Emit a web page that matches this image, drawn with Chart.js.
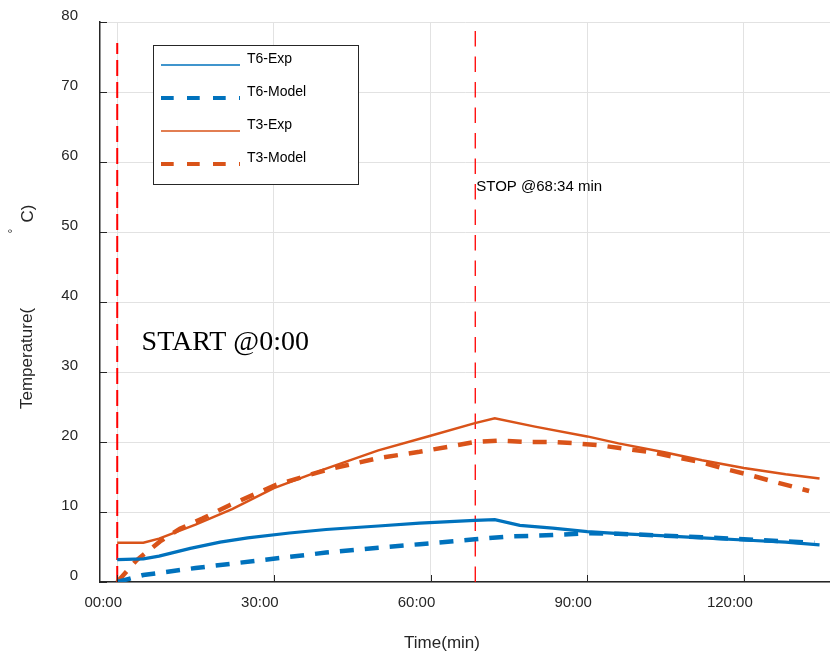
<!DOCTYPE html>
<html>
<head>
<meta charset="utf-8">
<script src="https://cdn.jsdelivr.net/npm/chart.js@4.4.1/dist/chart.umd.min.js"></script>
<style>
  html, body { margin: 0; padding: 0; background: #fff; }
  #wrap { width: 830px; height: 658px; position: relative; }
</style>
</head>
<body>
<div id="wrap"><canvas id="chart"></canvas></div>
<script>
// time in minutes, temperature in degC
const t6ExpTime = [0, 5, 8, 14, 19.7, 25, 33, 40, 50, 57.9, 68.5, 72.3, 77.1, 83.4, 90, 96.2, 105, 112, 120, 128, 134.5];
const t6ExpTemp = [3.2, 3.3, 3.7, 4.8, 5.7, 6.3, 7.0, 7.5, 8.0, 8.4, 8.8, 8.9, 8.1, 7.7, 7.2, 6.9, 6.6, 6.3, 6.0, 5.7, 5.3];

const t6ModelTime = [0, 5, 15, 27.3, 40, 50, 57.9, 68.5, 75, 83.4, 90, 96, 105, 112, 120, 128, 133.5];
const t6ModelTemp = [0, 1.0, 2.0, 3.1, 4.2, 4.9, 5.4, 6.1, 6.5, 6.7, 6.95, 6.9, 6.6, 6.4, 6.1, 5.8, 5.6];

const t3ExpTime = [0, 5, 8, 15, 22, 30, 40, 50, 60, 68.5, 72.3, 80, 90, 96, 105, 112, 120, 128, 134.5];
const t3ExpTemp = [5.6, 5.6, 6.2, 8.2, 10.4, 13.4, 16.2, 18.8, 20.9, 22.7, 23.4, 22.2, 20.8, 19.8, 18.5, 17.4, 16.3, 15.4, 14.8];

const t3ModelTime = [0, 3.7, 8.2, 12, 16.4, 21.6, 30.5, 40, 50, 57.9, 68.5, 73.3, 78.4, 83.4, 88, 92.7, 97.5, 102.6, 107.1, 111.9, 116.7, 121.1, 125.9, 131, 132.5];
const t3ModelTemp = [0, 3.1, 5.8, 7.6, 9.1, 11, 13.9, 16, 17.7, 18.6, 20, 20.2, 20, 20, 19.8, 19.5, 19, 18.5, 17.8, 17.1, 16.1, 15.3, 14.3, 13.3, 13.0];

const startTime = 0;        // START @0:00
const stopTime = 68 + 34 / 60; // STOP @68:34
const startLineTop = 77;
const stopLineTop = 79;

const xTicks = [0, 30, 60, 90, 120];
const yTicks = [0, 10, 20, 30, 40, 50, 60, 70, 80];

const blue = '#0072BD';
const orange = '#D95319';
const axisColor = '#262626';

const pts = (xs, ys) => xs.map((x, i) => ({ x, y: ys[i] }));

Chart.defaults.font.family = '"Liberation Sans", Arial, sans-serif';
Chart.defaults.color = axisColor;

const decorations = {
  id: 'decorations',
  afterDraw(chart) {
    const { ctx, chartArea, scales: { x, y } } = chart;
    ctx.save();

    // inward tick marks
    ctx.strokeStyle = axisColor;
    ctx.lineWidth = 1;
    ctx.beginPath();
    yTicks.forEach(v => {
      const py = Math.round(y.getPixelForValue(v)) + 0.5;
      ctx.moveTo(chartArea.left, py);
      ctx.lineTo(chartArea.left + 7, py);
    });
    xTicks.forEach(v => {
      const px = Math.round(x.getPixelForValue(v)) + 0.5;
      ctx.moveTo(px, chartArea.bottom);
      ctx.lineTo(px, chartArea.bottom - 7);
    });
    ctx.stroke();

    // annotations
    ctx.fillStyle = '#000';
    ctx.textAlign = 'left';
    ctx.textBaseline = 'alphabetic';
    ctx.font = '15px "Liberation Sans", Arial, sans-serif';
    ctx.fillText('STOP @68:34 min', x.getPixelForValue(stopTime) + 1, y.getPixelForValue(55.9));
    ctx.font = '28px "Liberation Serif", "Times New Roman", serif';
    ctx.fillText('START @0:00', x.getPixelForValue(4.67), y.getPixelForValue(33.1));

    // axis titles
    ctx.fillStyle = axisColor;
    ctx.font = '17px "Liberation Sans", Arial, sans-serif';
    ctx.textAlign = 'center';
    ctx.textBaseline = 'middle';
    ctx.fillText('Time(min)', 442, 643);
    const rot = (txt, cx, cy, font) => {
      ctx.save();
      ctx.translate(cx, cy);
      ctx.rotate(-Math.PI / 2);
      ctx.font = font;
      ctx.fillText(txt, 0, 0);
      ctx.restore();
    };
    rot('Temperature(', 27, 358.5, '17px "Liberation Sans", Arial, sans-serif');
    rot('C)', 28, 213.5, '17px "Liberation Sans", Arial, sans-serif');
    rot('\u00B0', 14, 231, '12px "Liberation Sans", Arial, sans-serif');

    // legend box
    const bx = 153.5, by = 45.5, bw = 205, bh = 139;
    ctx.fillStyle = '#fff';
    ctx.fillRect(bx, by, bw, bh);
    ctx.strokeStyle = axisColor;
    ctx.lineWidth = 1;
    ctx.strokeRect(bx, by, bw, bh);
    const rows = [65, 98, 131, 164];
    chart.data.datasets.slice(0, 4).forEach((ds, i) => {
      const ly = rows[i];
      ctx.save();
      ctx.strokeStyle = ds.borderColor;
      ctx.lineWidth = ds.borderDash.length ? 4 : 1.5;
      ctx.setLineDash(ds.borderDash.length ? [12.7, 13.3] : []);
      ctx.beginPath();
      ctx.moveTo(161, ly);
      ctx.lineTo(240, ly);
      ctx.stroke();
      ctx.restore();
      ctx.fillStyle = '#000';
      ctx.font = '14px "Liberation Sans", Arial, sans-serif';
      ctx.textAlign = 'left';
      ctx.textBaseline = 'middle';
      ctx.fillText(ds.label, 247, ly - 6);
    });

    ctx.restore();
  }
};

new Chart(document.getElementById('chart'), {
  type: 'line',
  data: {
    datasets: [
      { label: 'T6-Exp', data: pts(t6ExpTime, t6ExpTemp), borderColor: blue, borderWidth: 3.2, borderDash: [] },
      { label: 'T6-Model', data: pts(t6ModelTime, t6ModelTemp), borderColor: blue, borderWidth: 4.5, borderDash: [14, 11] },
      { label: 'T3-Exp', data: pts(t3ExpTime, t3ExpTemp), borderColor: orange, borderWidth: 2.5, borderDash: [] },
      { label: 'T3-Model', data: pts(t3ModelTime, t3ModelTemp), borderColor: orange, borderWidth: 4.5, borderDash: [14, 11] },
      { label: 'start', data: pts([startTime, startTime], [0, startLineTop]), borderColor: '#ff0000', borderWidth: 2, borderDash: [16, 6] },
      { label: 'stop', data: pts([stopTime, stopTime], [0, stopLineTop]), borderColor: '#ff0000', borderWidth: 1.3, borderDash: [15.5, 10] }
    ]
  },
  options: {
    responsive: true,
    maintainAspectRatio: false,
    animation: false,
    layout: { padding: { top: 22, left: 0, right: 0, bottom: 0 } },
    elements: { point: { radius: 0 }, line: { tension: 0 } },
    plugins: {
      legend: { display: false },
      tooltip: { enabled: false }
    },
    scales: {
      x: {
        type: 'linear',
        min: -3.3,
        max: 136.5,
        afterBuildTicks: s => { s.ticks = xTicks.map(v => ({ value: v })); },
        afterFit: s => { s.height = 76; s.paddingLeft = 0; s.paddingRight = 0; },
        ticks: {
          font: { size: 15 },
          padding: 12,
          labelOffset: -14,
          maxRotation: 0,
          callback: v => String(v).padStart(2, '0') + ':00'
        },
        grid: { color: '#e2e2e2', lineWidth: 1, drawTicks: false },
        border: { color: axisColor, width: 1.5 }
      },
      y: {
        min: 0,
        max: 80,
        afterBuildTicks: s => { s.ticks = yTicks.map(v => ({ value: v })); },
        afterFit: s => { s.width = 100; s.paddingTop = 0; s.paddingBottom = 0; },
        ticks: {
          font: { size: 15 },
          padding: 22,
          labelOffset: -6
        },
        grid: { color: '#e2e2e2', lineWidth: 1, drawTicks: false },
        border: { color: axisColor, width: 1.5 }
      }
    }
  },
  plugins: [decorations]
});
</script>
</body>
</html>
